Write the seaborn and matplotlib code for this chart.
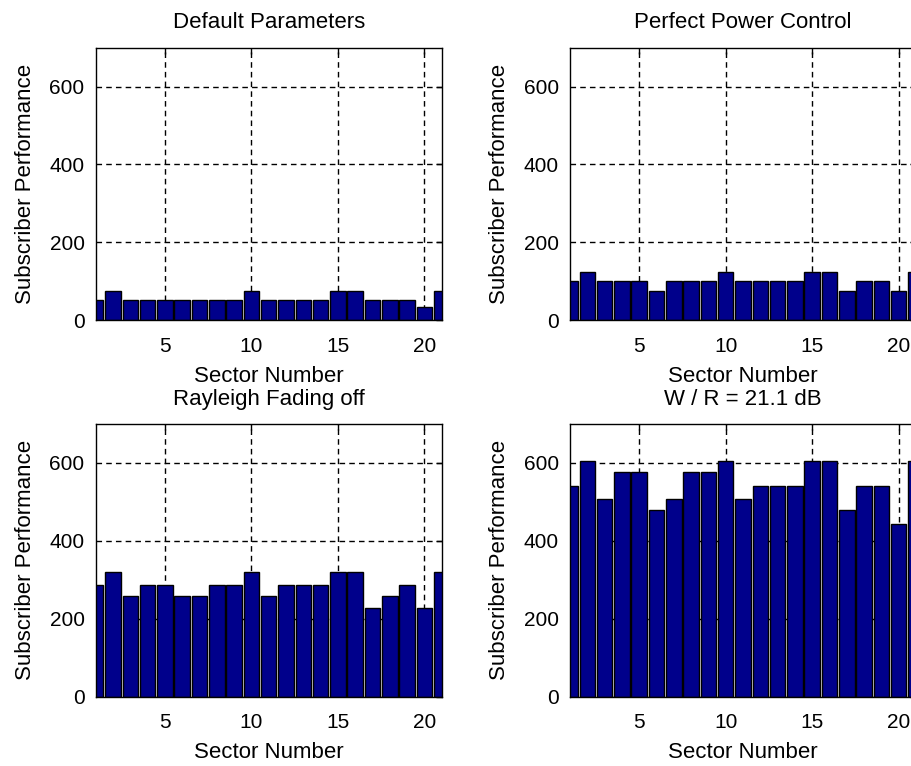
import matplotlib
matplotlib.use("Agg")
import matplotlib.pyplot as plt
import seaborn as sns
import pandas as pd

sectors = list(range(1, 22))
default_params = [53, 74, 53, 53, 53, 53, 53, 53, 53, 74, 53, 53, 53, 53, 74, 74, 53, 53, 53, 34, 74]
perfect_power = [100, 124, 100, 100, 100, 76, 100, 100, 100, 124, 100, 100, 100, 100, 124, 124, 76, 100, 100, 76, 124]
rayleigh_off = [287, 321, 258, 287, 287, 258, 258, 287, 287, 321, 258, 287, 287, 287, 321, 321, 227, 258, 287, 227, 321]
wr_21db = [541, 604, 507, 576, 576, 479, 507, 576, 576, 604, 507, 541, 541, 541, 604, 604, 479, 541, 541, 443, 604]

titles = ["Default Parameters", "Perfect Power Control", "Rayleigh Fading off", "W / R = 21.1 dB"]
series = [default_params, perfect_power, rayleigh_off, wr_21db]
xticks = [5, 10, 15, 20]
yticks = [0, 200, 400, 600]

sns.set_style("white")
plt.rcParams['font.family'] = ['Liberation Sans', 'DejaVu Sans']
plt.rcParams['text.color'] = 'black'
plt.rcParams['axes.labelcolor'] = 'black'
plt.rcParams['xtick.color'] = 'black'
plt.rcParams['ytick.color'] = 'black'

W, H = 911, 766
fig = plt.figure(figsize=(W / 100, H / 100), dpi=100)

# axes boxes in pixels: left, top, width, height
boxes = [(95.7, 47.7, 346, 272.5), (570, 47.7, 346, 272.5),
         (95.7, 424, 346, 272.7), (570, 424, 346, 272.7)]

for (l, t, w, h), title, vals in zip(boxes, titles, series):
    ax = fig.add_axes([l / W, 1 - (t + h) / H, w / W, h / H])
    df = pd.DataFrame({"sector": sectors, "value": vals})
    sns.barplot(data=df, x="sector", y="value", native_scale=True, width=0.9,
                color="#00008B", saturation=1, edgecolor="black", linewidth=1,
                ax=ax, zorder=2)
    ax.set_xlim(1, 21)
    ax.set_ylim(0, 700)
    ax.set_xticks(xticks)
    ax.set_yticks(yticks)
    ax.grid(True, color="black", linestyle=(0, (4, 3)), linewidth=1)
    ax.set_axisbelow(True)
    for s in ax.spines.values():
        s.set_visible(True)
        s.set_color("black")
        s.set_linewidth(1)
        s.set_zorder(3)
    ax.tick_params(axis="both", direction="in", length=4, width=1,
                   labelsize=15, colors="black", top=True, right=True)
    ax.tick_params(axis="x", pad=12)
    ax.tick_params(axis="y", pad=8)
    ax.set_xlabel("Sector Number", fontsize=16, labelpad=7, color="black")
    ax.set_ylabel("Subscriber Performance", fontsize=16, labelpad=10, color="black")
    ax.set_title(title, fontsize=16, pad=14, color="black")

fig.savefig("out.png", dpi=100, facecolor="white")
